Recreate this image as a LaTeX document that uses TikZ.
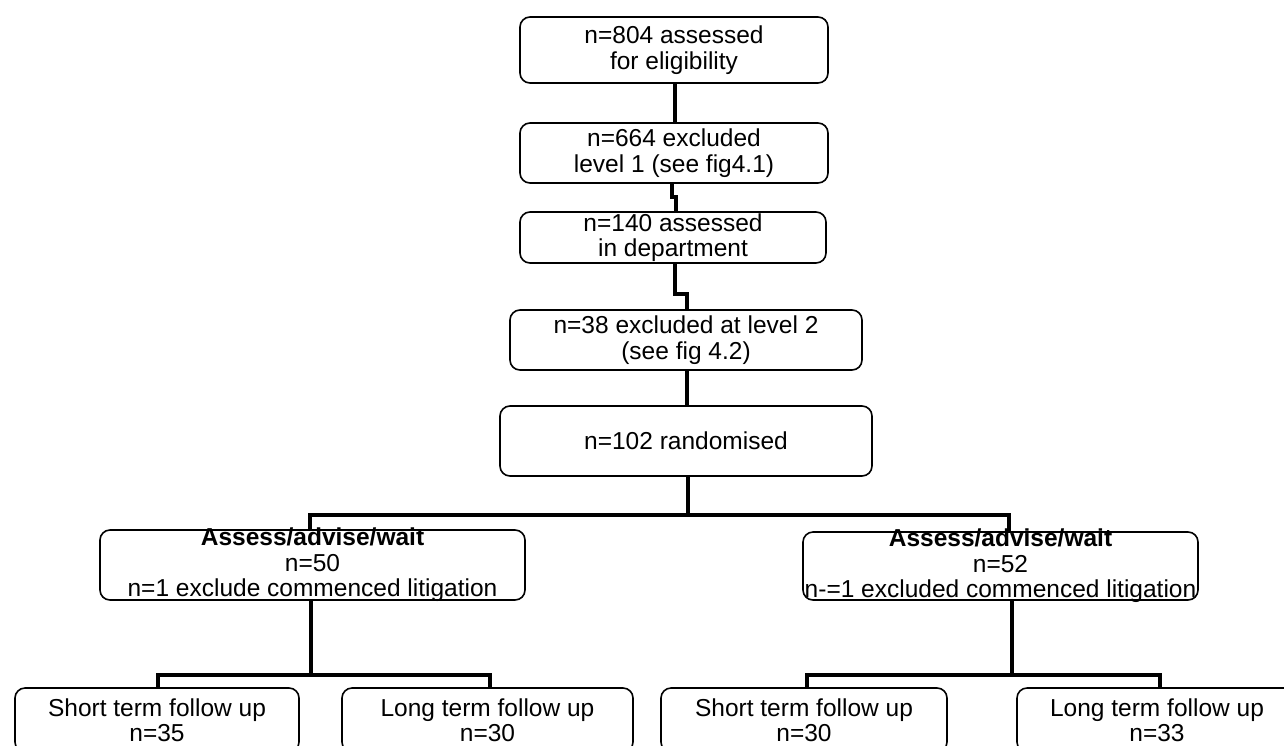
\documentclass[tikz,border=0pt]{standalone}
\usepackage{fontspec}
\setmainfont{Liberation Sans}
\newcommand\bxt[3]{\parbox[c][#2pt][c]{#1pt}{\centering #3}}
\begin{document}
\begin{tikzpicture}[x=1pt,y=-1pt,
  box/.style={draw,line width=1.6pt,rounded corners=10pt,inner sep=0pt,
    font=\fontsize{24.5}{25.5}\selectfont},
  conn/.style={line width=4.5pt,line cap=butt}]
\useasboundingbox (0,0) rectangle (1284,745);
\clip (0,0) rectangle (1284,745);
\fill[white] (0,0) rectangle (1284,745);
\node[box] (b1) at (674,50) {\bxt{308}{66}{n=804 assessed\\for eligibility}};
\node[box] (b2) at (674,153) {\bxt{308}{60}{n=664 excluded\\level 1 (see fig4.1)}};
\node[box] (b3) at (673,237.5) {\bxt{306}{51}{n=140 assessed\\in department}};
\node[box] (b4) at (686,340) {\bxt{352}{60}{n=38 excluded at level 2\\(see fig 4.2)}};
\node[box] (b5) at (686,441) {\bxt{372}{70}{n=102 randomised}};
\node[box] (bL) at (312.5,565) {\bxt{425}{70}{\textbf{Assess/advise/wait}\\n=50\\n=1 exclude commenced litigation}};
\node[box] (bR) at (1000.5,566) {\bxt{395}{68}{\textbf{Assess/advise/wait}\\n=52\\n-=1 excluded commenced litigation}};
\node[box] (sL) at (157,720) {\bxt{284}{64}{Short term follow up\\n=35}};
\node[box] (lL) at (487.5,720) {\bxt{291}{64}{Long term follow up\\n=30}};
\node[box] (sR) at (804,720) {\bxt{286}{64}{Short term follow up\\n=30}};
\node[box] (lR) at (1157,720) {\bxt{280}{64}{Long term follow up\\n=33}};
% connectors
\draw[conn] ([xshift=1pt]b1.south) -- ([xshift=1pt]b1.south |- b2.north);
\draw[conn] ([xshift=-2pt]b2.south) -- ++(0,13) -- ++(4,0) -- ([xshift=2pt]b2.south |- b3.north);
\draw[conn] ([xshift=2pt]b3.south) -- ++(0,30) -| ([xshift=1pt]b4.north);
\draw[conn] ([xshift=1pt]b4.south) -- ([xshift=1pt]b4.south |- b5.north);
\coordinate (j1) at (688,515);
\draw[conn] (j1 |- b5.south) -- (j1);
\draw[conn] ([xshift=-2.5pt]bL.north) |- (j1) -| ([xshift=8.5pt]bR.north);
\coordinate (j2) at (311,675);
\draw[conn] (j2 |- bL.south) -- (j2);
\draw[conn] ([xshift=1pt]sL.north) |- (j2) -| ([xshift=2.5pt]lL.north);
\coordinate (j3) at (1012,675);
\draw[conn] (j3 |- bR.south) -- (j3);
\draw[conn] ([xshift=3pt]sR.north) |- (j3) -| ([xshift=3pt]lR.north);
\end{tikzpicture}
\end{document}
